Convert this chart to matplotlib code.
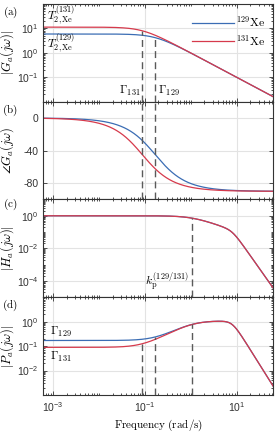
import numpy as np
import matplotlib
matplotlib.use("Agg")
import matplotlib.pyplot as plt
from matplotlib.ticker import LogLocator, NullFormatter, FixedLocator
from matplotlib.font_manager import FontProperties

plt.rcParams['font.family'] = 'Liberation Sans'
plt.rcParams['mathtext.fontset'] = 'custom'
plt.rcParams['mathtext.rm'] = 'Liberation Sans'
plt.rcParams['mathtext.it'] = 'Liberation Sans:italic'
plt.rcParams['axes.unicode_minus'] = False

# -------------
# Values
# -------------
isotopes = ["129", "131"]
gammas = [0.17, 0.089]          # Gamma_129, Gamma_131 (rad/s), dashed markers
colors = ["#3b6db4", "#d63a4c"]
kp = 1.09                       # k_p^(129/131), dashed marker in (c)
f_cut = 8.0                     # knee of the steep roll-off in (c)

x_lim = (10 ** -3.2, 10 ** 1.8)
x_ticks = [1e-3, 1e-1, 1e1]
a_ticks = [1e-1, 1e0, 1e1]
b_ticks = [0, -40, -80]
c_ticks = [1e-4, 1e-2, 1e0]
d_ticks = [1e-2, 1e-1, 1e0]

w = np.logspace(-3.2, 1.8, 800)


def H_a(w):
    s = 1j * w / f_cut
    filt = 1.0 / ((s + 1) * (s ** 2 + s + 1))
    return kp / (1j * w + kp) * filt


def G_a(w, g):
    return 1.0 / (g + 1j * w)


def P_a(w, g):
    return H_a(w) / G_a(w, g)


# -------------
# Drawing
# -------------
fig = plt.figure(figsize=(2.77, 4.36), dpi=100)
gs = fig.add_gridspec(4, 1, left=0.157, right=0.987, top=0.991, bottom=0.094, hspace=0)
axs = [fig.add_subplot(gs[i]) for i in range(4)]

cm = dict(math_fontfamily='cm')
dash = dict(color='#5a5a5a', lw=1.0, linestyle=(0, (5, 3)), zorder=3)

for ax in axs:
    ax.set_xscale('log')
    ax.set_xlim(*x_lim)
    ax.xaxis.set_major_locator(FixedLocator(x_ticks))
    ax.xaxis.set_minor_locator(LogLocator(base=10, subs=np.arange(1, 10), numticks=20))
    ax.xaxis.set_minor_formatter(NullFormatter())
    ax.grid(True, which='major', color='#e3e3e3', lw=0.8)
    ax.set_axisbelow(True)
    ax.tick_params(which='both', direction='in', top=True, right=True,
                   colors='#333333', labelsize=7.5, width=0.6)
    ax.tick_params(which='major', length=3)
    ax.tick_params(which='minor', length=1.6)
    for sp in ax.spines.values():
        sp.set_color('#333333')
        sp.set_linewidth(0.8)
    if ax is not axs[-1]:
        ax.tick_params(labelbottom=False)

# (a) magnitude of G_a
ax = axs[0]
for iso, g, c in zip(isotopes, gammas, colors):
    ax.plot(w, np.abs(G_a(w, g)), color=c, lw=0.9, label=r'$^{%s}\mathrm{Xe}$' % iso)
ax.set_yscale('log')
ax.set_ylim(1e-2, 1e2)
ax.yaxis.set_major_locator(FixedLocator(a_ticks))
ax.yaxis.set_minor_formatter(NullFormatter())
for g in gammas:
    ax.vlines(g, 1e-2, np.abs(G_a(g, g)), **dash)
ax.text(0.015, 0.88, r'$T_{2,\mathrm{Xe}}^{(131)}$', transform=ax.transAxes,
        fontsize=8.5, va='center', **cm)
ax.text(0.015, 0.6, r'$T_{2,\mathrm{Xe}}^{(129)}$', transform=ax.transAxes,
        fontsize=8.5, va='center', **cm)
ax.text(gammas[1] * 0.93, 10 ** -1.55, r'$\Gamma_{131}$', ha='right', va='center', fontsize=8.5, **cm)
ax.text(gammas[0] * 1.12, 10 ** -1.55, r'$\Gamma_{129}$', ha='left', va='center', fontsize=8.5, **cm)
ax.legend(loc='upper right', bbox_to_anchor=(0.965, 0.885), frameon=False,
          prop=FontProperties(size=8.5, math_fontfamily='cm'),
          handlelength=3.5, handletextpad=0.2, labelspacing=0.3,
          borderaxespad=0, borderpad=0)
ax.set_ylabel(r'$|G_a(j\omega)|$', fontsize=9, **cm)

# (b) phase of G_a
ax = axs[1]
for g, c in zip(gammas, colors):
    ax.plot(w, np.degrees(np.angle(G_a(w, g))), color=c, lw=0.9)
ax.set_ylim(-100, 20)
ax.set_yticks(b_ticks)
for g in gammas:
    ax.axvline(g, **dash)
ax.set_ylabel(r'$\angle G_a(j\omega)$', fontsize=9, **cm)

# (c) magnitude of H_a
ax = axs[2]
for c in colors:
    ax.plot(w, np.abs(H_a(w)), color=c, lw=0.9)
ax.set_yscale('log')
ax.set_ylim(1e-5, 1e1)
ax.yaxis.set_major_locator(FixedLocator(c_ticks))
ax.yaxis.set_minor_locator(LogLocator(base=10, subs=np.arange(1, 10), numticks=20))
ax.yaxis.set_minor_formatter(NullFormatter())
ax.vlines(kp, 1e-5, np.abs(H_a(kp)), **dash)
ax.text(kp * 0.86, 10 ** -4.15, r'$k_\mathrm{p}^{(129/131)}$', ha='right', va='center', fontsize=8.5, **cm)
ax.set_ylabel(r'$|H_a(j\omega)|$', fontsize=9, **cm)

# (d) magnitude of P_a
ax = axs[3]
for g, c in zip(gammas, colors):
    ax.plot(w, np.abs(P_a(w, g)), color=c, lw=0.9)
ax.set_yscale('log')
ax.set_ylim(1e-3, 1e1)
ax.yaxis.set_major_locator(FixedLocator(d_ticks))
ax.yaxis.set_minor_formatter(NullFormatter())
for g in gammas:
    ax.vlines(g, 1e-3, np.abs(P_a(g, g)), **dash)
ax.vlines(kp, 1e-3, np.abs(P_a(kp, gammas[1])), **dash)
ax.text(0.03, 0.64, r'$\Gamma_{129}$', transform=ax.transAxes, va='center', fontsize=8.5, **cm)
ax.text(0.03, 0.39, r'$\Gamma_{131}$', transform=ax.transAxes, va='center', fontsize=8.5, **cm)
ax.set_ylabel(r'$|P_a(j\omega)|$', fontsize=9, **cm)
ax.set_xlabel(r'$\mathrm{Frequency\ (rad/s)}$', fontsize=8, labelpad=3, **cm)

for ax in axs:
    ax.yaxis.set_label_coords(-0.118, 0.5)

for lab, y in zip(['(a)', '(b)', '(c)', '(d)'], [0.972, 0.748, 0.532, 0.30]):
    fig.text(0.037, y, r'$\mathrm{%s}$' % lab, ha='center', va='center', fontsize=8, **cm)

fig.savefig('out.png', dpi=100)
